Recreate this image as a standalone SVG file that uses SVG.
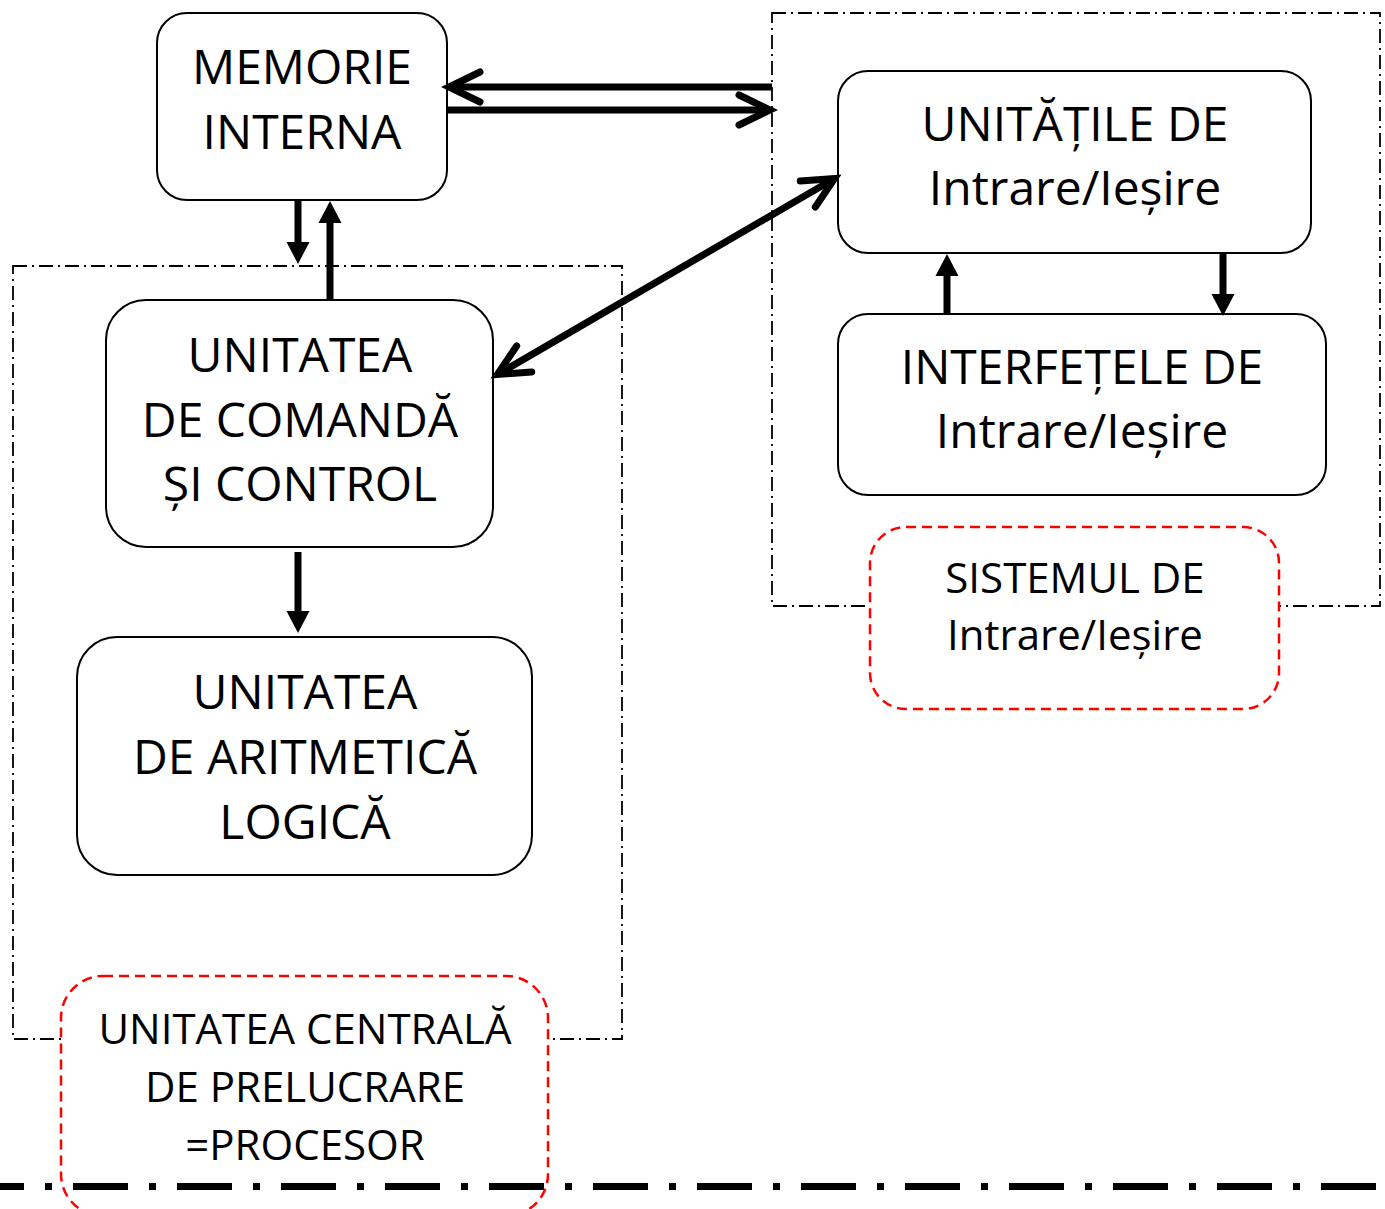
<svg xmlns="http://www.w3.org/2000/svg" width="1385" height="1209" viewBox="0 0 1385 1209">
<style>
.box{fill:#fff;stroke:#000;stroke-width:2}
.grp{fill:none;stroke:#000;stroke-width:1.8;stroke-dasharray:14 5 2 5}
.lbl{fill:#fff;stroke:#f00;stroke-width:2.5;stroke-dasharray:10 6}
.t{font-family:"Open Sans","Noto Sans",sans-serif;font-size:48px;fill:#000;text-anchor:middle}
.s{font-family:"Open Sans","Noto Sans",sans-serif;font-size:42px;fill:#000;text-anchor:middle}
.thick{fill:none;stroke:#000;stroke-width:7}
</style>
<defs>
<marker id="chev" markerUnits="userSpaceOnUse" viewBox="-40 -25 50 50" markerWidth="50" markerHeight="50" refX="-3" refY="0" orient="auto-start-reverse" overflow="visible">
<path d="M-31,-15 L0,0 L-31,15" fill="none" stroke="#000" stroke-width="7" stroke-linecap="round" stroke-linejoin="miter"/>
</marker>
<marker id="tri" markerUnits="userSpaceOnUse" viewBox="0 -12 24 24" markerWidth="24" markerHeight="24" refX="0" refY="0" orient="auto" overflow="visible">
<path d="M0,-11.5 L22,0 L0,11.5 z" fill="#000"/>
</marker>
</defs>
<g id="group-cpu"><rect class="grp" x="13" y="266" width="609" height="773"/></g>
<g id="group-io"><rect class="grp" x="772" y="13" width="608" height="593"/></g>
<g id="memorie"><rect class="box" x="157" y="13" width="290" height="187" rx="30"/>
<text class="t" x="302" y="84">MEMORIE</text><text class="t" x="302" y="149">INTERNA</text></g>
<g id="unitatile"><rect class="box" x="838" y="71" width="473" height="182" rx="30"/>
<text class="t" x="1075" y="141">UNITĂȚILE DE</text><text class="t" x="1075" y="205">Intrare/Ieșire</text></g>
<g id="interfetele"><rect class="box" x="838" y="314" width="488" height="181" rx="30"/>
<text class="t" x="1082" y="384">INTERFEȚELE DE</text><text class="t" x="1082" y="448">Intrare/Ieșire</text></g>
<g id="comanda"><rect class="box" x="106" y="300" width="387" height="247" rx="40"/>
<text class="t" x="300" y="372">UNITATEA</text><text class="t" x="300" y="437">DE COMANDĂ</text><text class="t" x="300" y="501">ȘI CONTROL</text></g>
<g id="aritmetica"><rect class="box" x="77" y="637" width="455" height="238" rx="40"/>
<text class="t" x="305" y="709">UNITATEA</text><text class="t" x="305" y="774">DE ARITMETICĂ</text><text class="t" x="305" y="839">LOGICĂ</text></g>
<g id="label-io"><rect class="lbl" x="870" y="527" width="409" height="182" rx="36"/>
<text class="s" x="1075" y="593">SISTEMUL DE</text><text class="s" x="1075" y="650">Intrare/Ieșire</text></g>
<g id="label-cpu"><rect class="lbl" x="61" y="976" width="487" height="240" rx="42"/>
<text class="s" x="305" y="1044">UNITATEA CENTRALĂ</text><text class="s" x="305" y="1102">DE PRELUCRARE</text><text class="s" x="305" y="1160">=PROCESOR</text></g>
<g id="connectors">
<line class="thick" x1="772" y1="87" x2="452" y2="87" marker-end="url(#chev)"/>
<line class="thick" x1="447" y1="110" x2="767" y2="110" marker-end="url(#chev)"/>
<line class="thick" x1="500" y1="373" x2="832" y2="180" marker-start="url(#chev)" marker-end="url(#chev)"/>
<line class="thick" x1="298" y1="200" x2="298" y2="242" marker-end="url(#tri)"/>
<line class="thick" x1="330" y1="300" x2="330" y2="223" marker-end="url(#tri)"/>
<line class="thick" x1="298" y1="552" x2="298" y2="611" marker-end="url(#tri)"/>
<line class="thick" x1="947" y1="313" x2="947" y2="276" marker-end="url(#tri)"/>
<line class="thick" x1="1223" y1="253" x2="1223" y2="294" marker-end="url(#tri)"/>
</g>
<g id="baseline"><line x1="0" y1="1186.5" x2="1385" y2="1186.5" stroke="#000" stroke-width="7" stroke-dasharray="55 21 7 21" stroke-dashoffset="31"/></g>
</svg>
